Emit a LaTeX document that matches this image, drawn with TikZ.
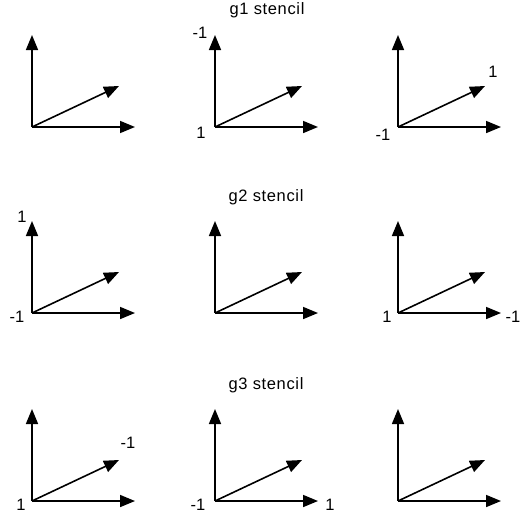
\documentclass[tikz,border=0pt]{standalone}
\usepackage{fontspec}
\setmainfont{Liberation Sans}
\usetikzlibrary{arrows.meta}

\tikzset{
  axis/.style={line width=1.6pt,-{Triangle[length=15pt,width=12pt]}},
  lbl/.style={inner sep=0pt,font=\fontsize{16.5}{18}\selectfont},
  title/.style={inner sep=0pt,font=\fontsize{16.5}{18}\selectfont\addfontfeature{LetterSpace=4}}
}

\begin{document}
\begin{tikzpicture}[x=1pt,y=-1pt,line cap=butt,line join=miter]
  \useasboundingbox (0,0) rectangle (526,520);
  % nine frames: origin, up, right, diagonal
  \foreach \r/\y in {1/127,2/313,3/501}{
    \foreach \c/\x in {1/32,2/215,3/398}{
      \coordinate (o\r\c) at (\x,\y);
      \coordinate (u\r\c) at (\x,\y-92);
      \coordinate (h\r\c) at (\x+103,\y);
      \coordinate (d\r\c) at (\x+87,\y-41);
      \draw[axis] (o\r\c) -- (u\r\c);
      \draw[axis] (o\r\c) -- (h\r\c);
      \draw[axis] (o\r\c) -- (d\r\c);
    }
  }
  % titles
  \node[title] (t1) at (267,10) {g1 stencil};
  \node[title] (t2) at (266,197) {g2 stencil};
  \node[title] (t3) at (266,385) {g3 stencil};
  % g1 labels
  \node[lbl] (a12) at (200,33) {-1};
  \node[lbl] (b12) at (201,133) {1};
  \node[lbl] (b13) at (383,135) {-1};
  \node[lbl] (c13) at (493,72) {1};
  % g2 labels
  \node[lbl] (a21) at (22,217) {1};
  \node[lbl] (b21) at (17,317) {-1};
  \node[lbl] (b23) at (387,317) {1};
  \node[lbl] (h23) at (513,317) {-1};
  % g3 labels
  \node[lbl] (c31) at (128,443) {-1};
  \node[lbl] (b31) at (21,505) {1};
  \node[lbl] (b32) at (198,505) {-1};
  \node[lbl] (h32) at (330,505) {1};
\end{tikzpicture}
\end{document}
